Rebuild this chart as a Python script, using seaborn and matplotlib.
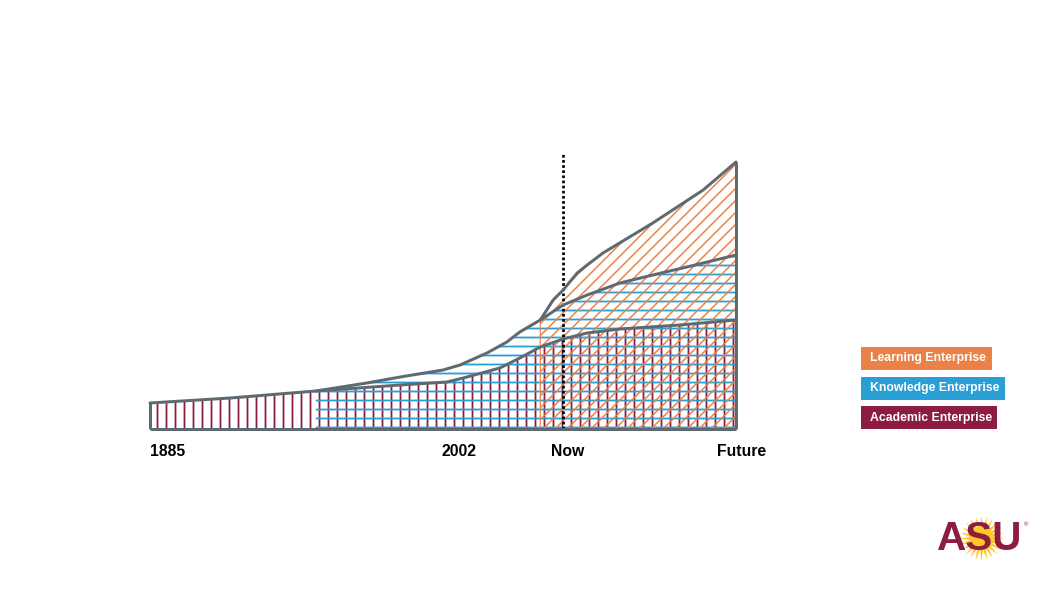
"""
Enterprise growth chart: stacked hatched layers from 1885 to the future.
"""

import matplotlib.pyplot as plt
import seaborn as sns
from matplotlib.patches import Rectangle

# timeline position: 0 = 1885, 100 = future
ACADEMIC_X = [0, 13.7, 28.3, 42.7, 50.7, 54.1, 59.7, 63.1, 66.6, 70.5, 74.6, 80.2, 90.4, 100]
ACADEMIC_Y = [26, 31, 38, 44, 47, 52, 61, 71, 82, 90, 96, 100, 104, 109]

KNOWLEDGE_X = [28.3, 37.0, 42.7, 50.0, 52.9, 57.5, 60.9, 63.1, 66.6, 70.5, 74.6, 80.2, 85.8, 91.6, 100]
KNOWLEDGE_Y = [38, 46, 52, 59, 64, 76, 87, 97, 109, 124, 134, 146, 154, 162, 174]

LEARNING_X = [66.6, 68.8, 70.5, 72.9, 74.6, 77.3, 85.8, 94.4, 100]
LEARNING_Y = [109, 129, 139, 156, 164, 176, 206, 239, 267]

TIME_LABELS = ["1885", "2002", "Now", "Future"]
TIME_POS = [0, 52.7, 71.3, 100.9]
NOW_POS = 70.5

LEGEND_LABELS = ["Learning Enterprise", "Knowledge Enterprise", "Academic Enterprise"]

MAROON = "#8c1d40"
BLUE = "#2a9fd6"
ORANGE = "#ea8248"
GOLD = "#ffc627"
OUTLINE = "#5e6a71"

W, H, DPI = 1064, 599, 108


def draw_layers(ax):
    plt.rcParams["hatch.linewidth"] = 1.2
    ax.fill_between(ACADEMIC_X, 0, ACADEMIC_Y, facecolor="none", edgecolor=MAROON,
                    hatch="||", linewidth=0, zorder=1)
    ax.fill_between(KNOWLEDGE_X, 0, KNOWLEDGE_Y, facecolor="none", edgecolor=BLUE,
                    hatch="--", linewidth=0, zorder=1)
    plt.rcParams["hatch.linewidth"] = 1.0
    ax.fill_between(LEARNING_X, 0, LEARNING_Y, facecolor="none", edgecolor=ORANGE,
                    hatch="///", linewidth=0.8, zorder=1)

    ax.axvline(NOW_POS, color="black", lw=1.8, ls=(0, (1, 0.9)), zorder=2)

    for xs, ys in [(ACADEMIC_X, ACADEMIC_Y), (KNOWLEDGE_X, KNOWLEDGE_Y), (LEARNING_X, LEARNING_Y)]:
        sns.lineplot(x=xs, y=ys, color=OUTLINE, lw=2, sort=False, estimator=None,
                     clip_on=False, zorder=3, ax=ax)
    ax.hlines(0, 0, 100, color=OUTLINE, lw=2, clip_on=False, zorder=3)
    ax.vlines(0, 0, ACADEMIC_Y[0], color=OUTLINE, lw=2, clip_on=False, zorder=3)
    ax.vlines(100, 0, LEARNING_Y[-1], color=OUTLINE, lw=2, clip_on=False, zorder=3)

    for label, pos in zip(TIME_LABELS, TIME_POS):
        ax.annotate(label, xy=(pos, 0), xycoords=("data", "axes fraction"),
                    xytext=(0, -14.7), textcoords="offset points",
                    ha="left" if label == "1885" else "center", va="center",
                    fontsize=10.5, fontweight="bold", color="black",
                    annotation_clip=False)


def draw_legend(fig):
    colors = [ORANGE, BLUE, MAROON]
    boxes = [(861, 347, 131), (861, 377, 144), (861, 406, 136)]
    for label, color, (x, y, w) in zip(LEGEND_LABELS, colors, boxes):
        fig.add_artist(Rectangle((x / W, 1 - (y + 23) / H), w / W, 23 / H,
                                 transform=fig.transFigure, facecolor=color, edgecolor="none"))
        fig.text((x + 9) / W, 1 - (y + 11.5) / H, label, color="white", fontsize=8.2,
                 fontweight="bold", va="center", ha="left")


def draw_logo(fig):
    logo = fig.add_axes([934 / W, 1 - 563 / H, 96 / W, 50 / H])
    logo.set_xlim(934, 1030)
    logo.set_ylim(563, 513)
    logo.axis("off")
    logo.scatter([981], [538], marker=(24, 1, 0), s=900, color=GOLD, linewidths=0, zorder=1)
    logo.text(980, 539, "ASU", ha="center", va="center", fontsize=27, fontweight="heavy",
              color=MAROON, zorder=2)
    logo.text(1026, 525, "®", ha="center", va="center", fontsize=4, color=MAROON)


def main():
    sns.set_style("white")
    plt.rcParams["font.family"] = ["Liberation Sans", "DejaVu Sans"]

    fig = plt.figure(figsize=(W / DPI, H / DPI), dpi=DPI)
    ax = fig.add_axes([150 / W, (H - 429) / H, 586 / W, 276 / H])
    ax.set_xlim(0, 100)
    ax.set_ylim(0, 276)
    ax.axis("off")

    draw_layers(ax)
    draw_legend(fig)
    draw_logo(fig)

    fig.savefig("out.png", dpi=DPI)
    plt.close(fig)


if __name__ == "__main__":
    main()
